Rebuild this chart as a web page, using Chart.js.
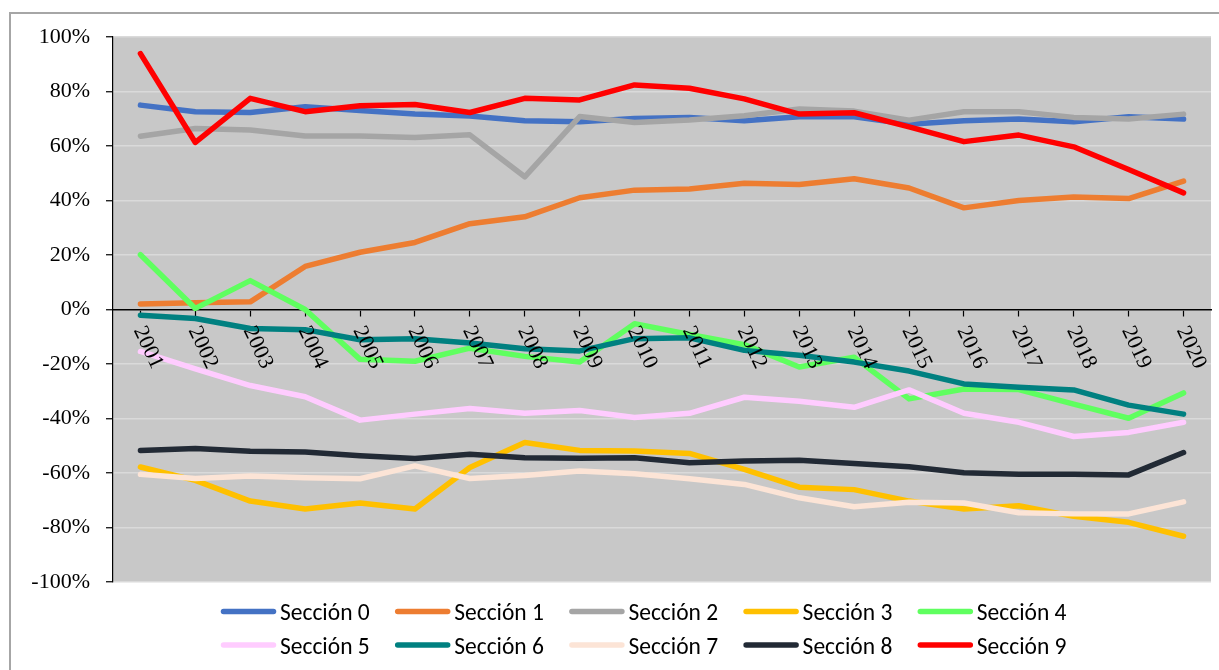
<!DOCTYPE html>
<html><head><meta charset="utf-8">
<script src="https://cdn.jsdelivr.net/npm/chart.js@4/dist/chart.umd.min.js"></script>
<style>
html,body{margin:0;padding:0;background:#fff;overflow:hidden;width:1219px;height:670px}
#frame{position:absolute;left:9px;top:12px;width:1268px;height:700px;border:2px solid #a6a6a6;background:#fff}
#c{display:block}
</style></head><body>
<div id="frame"><canvas id="c" width="1268" height="700"></canvas></div>
<script>
const years = ['2001','2002','2003','2004','2005','2006','2007','2008','2009','2010','2011','2012','2013','2014','2015','2016','2017','2018','2019','2020'];
const seriesNames = ['Sección 0','Sección 1','Sección 2','Sección 3','Sección 4','Sección 5','Sección 6','Sección 7','Sección 8','Sección 9'];
const seriesColors = ['#4472C4','#ED7D31','#A5A5A5','#FFC000','#5FFF5F','#FFCCFF','#008080','#FCE4D6','#222A35','#FF0000'];
const seccion0 = [75.0, 72.6, 72.3, 74.4, 73.0, 71.7, 71.0, 69.3, 68.9, 70.1, 70.5, 69.3, 70.7, 70.7, 68.0, 69.3, 69.9, 68.9, 70.7, 69.9];
const seccion1 = [2.0, 2.5, 2.8, 15.8, 21.0, 24.6, 31.5, 34.0, 41.0, 43.8, 44.2, 46.3, 45.9, 48.0, 44.6, 37.3, 40.0, 41.3, 40.7, 47.1];
const seccion2 = [63.6, 66.4, 65.9, 63.7, 63.7, 63.1, 64.1, 48.7, 70.8, 68.6, 69.5, 71.1, 73.6, 72.8, 69.5, 72.6, 72.6, 70.5, 69.9, 71.7];
const seccion3 = [-57.8, -62.7, -70.3, -73.2, -71.0, -73.2, -58.0, -48.8, -51.7, -51.9, -52.8, -58.7, -65.2, -66.1, -70.3, -73.2, -72.0, -75.9, -78.1, -83.2];
const seccion4 = [20.1, 0.4, 10.6, 0.0, -18.3, -19.0, -14.2, -17.2, -19.3, -5.2, -9.2, -12.9, -21.1, -17.5, -32.8, -29.2, -29.4, -34.7, -39.9, -30.6];
const seccion5 = [-15.4, -21.8, -27.9, -32.0, -40.6, -38.4, -36.3, -38.1, -37.1, -39.6, -38.1, -32.2, -33.7, -35.9, -29.5, -38.1, -41.4, -46.6, -45.1, -41.4];
const seccion6 = [-2.1, -3.3, -7.0, -7.4, -11.1, -10.7, -12.3, -14.4, -15.2, -10.7, -10.4, -15.0, -16.8, -19.3, -22.6, -27.3, -28.5, -29.5, -35.1, -38.4];
const seccion7 = [-60.5, -62.0, -61.1, -61.7, -62.1, -57.4, -62.0, -60.9, -59.3, -60.3, -62.1, -64.2, -69.1, -72.4, -70.7, -71.0, -74.6, -75.0, -75.0, -70.6];
const seccion8 = [-51.7, -51.0, -52.0, -52.3, -53.7, -54.7, -53.1, -54.4, -54.6, -54.4, -56.2, -55.6, -55.3, -56.5, -57.7, -59.9, -60.5, -60.5, -60.7, -52.5];
const seccion9 = [93.9, 61.3, 77.5, 72.6, 74.8, 75.2, 72.3, 77.5, 76.9, 82.4, 81.2, 77.3, 71.7, 72.2, 67.0, 61.6, 64.0, 59.7, 51.4, 42.8];
const seriesValues = [seccion0, seccion1, seccion2, seccion3, seccion4, seccion5, seccion6, seccion7, seccion8, seccion9];

const datasets = seriesNames.map((name, i) => ({
  label: name,
  data: seriesValues[i],
  borderColor: seriesColors[i],
  backgroundColor: seriesColors[i],
  borderWidth: 5.5,
  pointRadius: 0,
  pointHoverRadius: 0,
  tension: 0,
  fill: false,
  borderCapStyle: 'round',
  borderJoinStyle: 'round',
  order: 9 - i
}));

const plotBg = {
  id: 'plotBg',
  beforeDraw(chart) {
    const {ctx, chartArea: a} = chart;
    ctx.save();
    ctx.fillStyle = '#c8c8c8';
    ctx.fillRect(a.left, a.top, a.right - a.left, a.bottom - a.top);
    ctx.restore();
  }
};

const xLabels = {
  id: 'xLabels',
  afterDatasetsDraw(chart) {
    const {ctx} = chart;
    const xs = chart.scales.x, ys = chart.scales.y;
    const y0 = ys.getPixelForValue(0);
    ctx.save();
    ctx.font = '22px "Liberation Serif", "Times New Roman", serif';
    ctx.fillStyle = '#000';
    ctx.textAlign = 'left';
    ctx.textBaseline = 'alphabetic';
    years.forEach((yr, i) => {
      const px = xs.getPixelForValue(i);
      ctx.save();
      ctx.translate(px - 7, y0 + 20.5);
      ctx.rotate(65 * Math.PI / 180);
      ctx.fillText(yr, 0, 0);
      ctx.restore();
    });
    ctx.restore();
  }
};

const customLegend = {
  id: 'customLegend',
  afterDraw(chart) {
    const {ctx} = chart;
    ctx.save();
    ctx.font = '23.5px Calibri, Carlito, Lato, sans-serif';
    ctx.textAlign = 'left';
    ctx.textBaseline = 'alphabetic';
    chart.data.datasets.forEach((ds, i) => {
      const col = i % 5, row = Math.floor(i / 5);
      const x0 = 210 + col * 174.2;
      const yl = 597.5 + row * 33.5;
      ctx.strokeStyle = ds.borderColor;
      ctx.lineWidth = 5.5;
      ctx.lineCap = 'round';
      ctx.beginPath();
      ctx.moveTo(x0 + 2.5, yl);
      ctx.lineTo(x0 + 52.5, yl);
      ctx.stroke();
      ctx.fillStyle = '#000';
      ctx.fillText(ds.label, x0 + 59, 606 + row * 33.5);
    });
    ctx.restore();
  }
};

new Chart(document.getElementById('c'), {
  type: 'line',
  data: { labels: years, datasets },
  options: {
    responsive: false,
    animation: false,
    devicePixelRatio: 1,
    layout: { padding: { left: 0, top: 23, right: 68, bottom: 132 } },
    plugins: { legend: { display: false }, tooltip: { enabled: false } },
    scales: {
      x: {
        type: 'category',
        position: { y: 0 },
        offset: true,
        grid: { drawOnChartArea: false, drawTicks: true, tickLength: 6, tickColor: '#000', tickWidth: 1.2, offset: false },
        border: { color: '#000', width: 1.5 },
        ticks: { display: false }
      },
      y: {
        min: -100, max: 100,
        afterFit(scale) { scale.width = 102; },
        grid: { color: '#dadada', lineWidth: 1.5, tickColor: '#000', tickLength: 7, tickWidth: 1.2 },
        border: { color: '#000', width: 1.2 },
        ticks: {
          stepSize: 20,
          padding: 16,
          color: '#000',
          font: { family: '"Liberation Serif", "Times New Roman", serif', size: 22, lineHeight: 0.5 },
          callback: v => v + '%'
        }
      }
    }
  },
  plugins: [plotBg, xLabels, customLegend]
});
</script>
</body></html>
